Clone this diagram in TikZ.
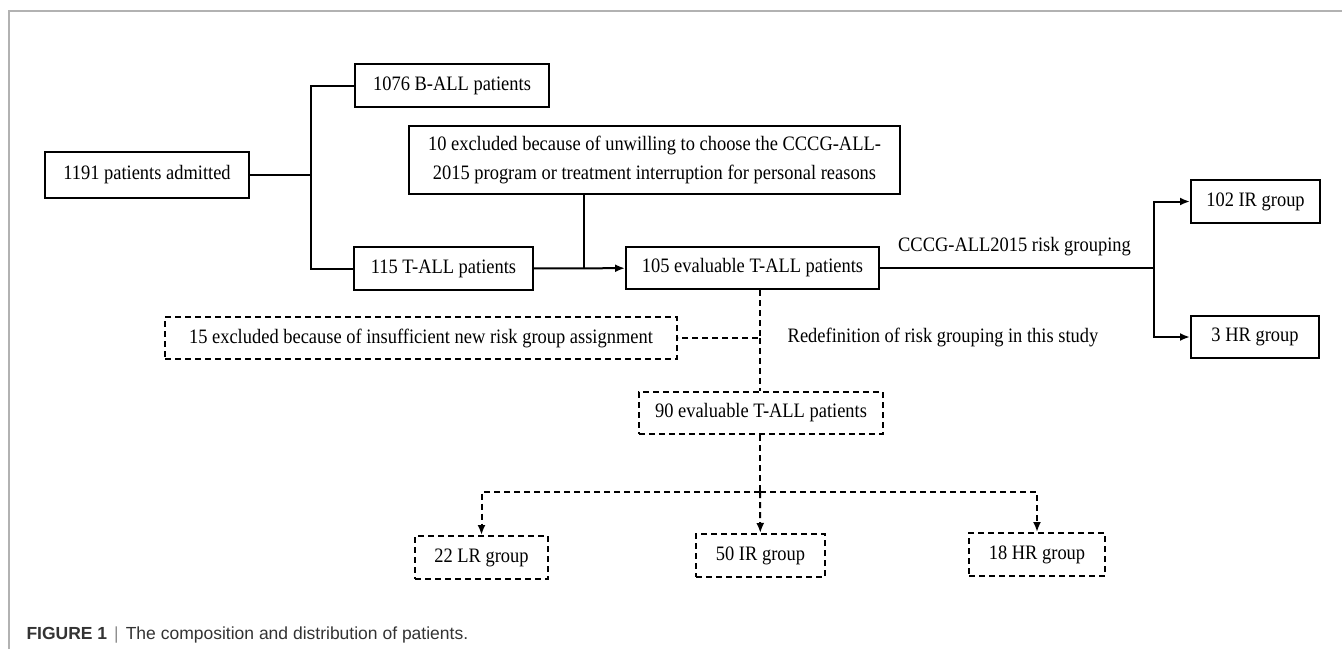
\documentclass[tikz,border=0pt]{standalone}
\usepackage{fontspec}
\setmainfont[FakeStretch=0.9]{Liberation Serif}
\setsansfont{Liberation Sans}
\usetikzlibrary{arrows.meta}
\newcommand{\flowfont}{\fontsize{20.5}{29}\selectfont}
\newcommand{\capfont}{\fontsize{17.5}{21}\selectfont\sffamily}
\begin{document}
\begin{tikzpicture}[x=1pt,y=-1pt,>={Latex[length=10pt,width=8pt]},
		box/.style={draw,line width=2pt,inner sep=0pt,align=center,font=\flowfont},
		dbox/.style={box,dash pattern=on 6pt off 4pt},
		link/.style={line width=2pt},
		dlink/.style={link,dash pattern=on 6pt off 4pt}]
		\useasboundingbox (0,0) rectangle (1342,649);
		\draw[line width=1.5pt, black!30] (9,649)--(9,11)--(1342,11);
		% solid boxes
		\node[box,minimum width=204pt,minimum height=46pt] (admit) at (147,175) {1191 patients admitted};
		\node[box,minimum width=194pt,minimum height=43pt] (ball) at (452,85.5) {1076 B-ALL patients};
		\node[box,minimum width=179pt,minimum height=43pt] (tall) at (443.5,268.5) {115 T-ALL patients};
		\node[box,minimum width=491pt,minimum height=68pt] (excl10) at (654.5,160) {10 excluded because of unwilling to choose the CCCG-ALL-\\2015 program or treatment interruption for personal reasons};
		\node[box,minimum width=253pt,minimum height=42pt] (eval105) at (752.5,268) {105 evaluable T-ALL patients};
		\node[box,minimum width=129pt,minimum height=43pt] (ir102) at (1255.5,201.5) {102 IR group};
		\node[box,minimum width=128pt,minimum height=42pt] (hr3) at (1255,337) {3 HR group};
		% dashed boxes
		\node[dbox,minimum width=512pt,minimum height=42pt] (excl15) at (421,338) {15 excluded because of insufficient new risk group assignment};
		\node[dbox,minimum width=244pt,minimum height=42pt] (eval90) at (761,413) {90 evaluable T-ALL patients};
		\node[dbox,minimum width=133pt,minimum height=43pt] (lr22) at (481.5,557.5) {22 LR group};
		\node[dbox,minimum width=129pt,minimum height=43pt] (ir50) at (760.5,555.5) {50 IR group};
		\node[dbox,minimum width=136pt,minimum height=43pt] (hr18) at (1037,554.5) {18 HR group};
		\node[font=\flowfont] (oldrisk) at (1014.5,247) {CCCG-ALL2015 risk grouping};
		\node[font=\flowfont] (newrisk) at (943,337) {Redefinition of risk grouping in this study};
		% connectors
		\coordinate (split) at (311,175);
		\coordinate (join) at (584,268);
		\coordinate (fork) at (1154,268);
		\coordinate (mid15) at (760,338);
		\coordinate (bus) at (760,492);
		\draw[link] (admit)--(split) |- (ball);
		\draw[link] (split) |- (tall);
		\draw[link,->] (tall)--(eval105);
		\draw[link] (excl10.south -| join)--(join);
		\draw[link] (eval105)--(fork);
		\draw[link,->] (fork) |- (ir102);
		\draw[link,->] (fork) |- (hr3);
		\draw[dlink] (eval105.south -| mid15)--(mid15)--(excl15);
		\draw[dlink] (mid15)--(eval90.north -| mid15);
		\draw[dlink] (eval90.south -| bus)--(bus);
		\draw[dlink,->] (bus) -| (lr22);
		\draw[dlink,->] (bus)--(ir50);
		\draw[dlink,->] (bus) -| (hr18);
		% caption
		\node[anchor=west,font=\capfont,text=black!80] (caption) at (23,635) {\textbf{FIGURE 1}\hspace{7pt}\textcolor{black!45}{|}\hspace{7pt}The composition and distribution of patients.};
\end{tikzpicture}
\end{document}
